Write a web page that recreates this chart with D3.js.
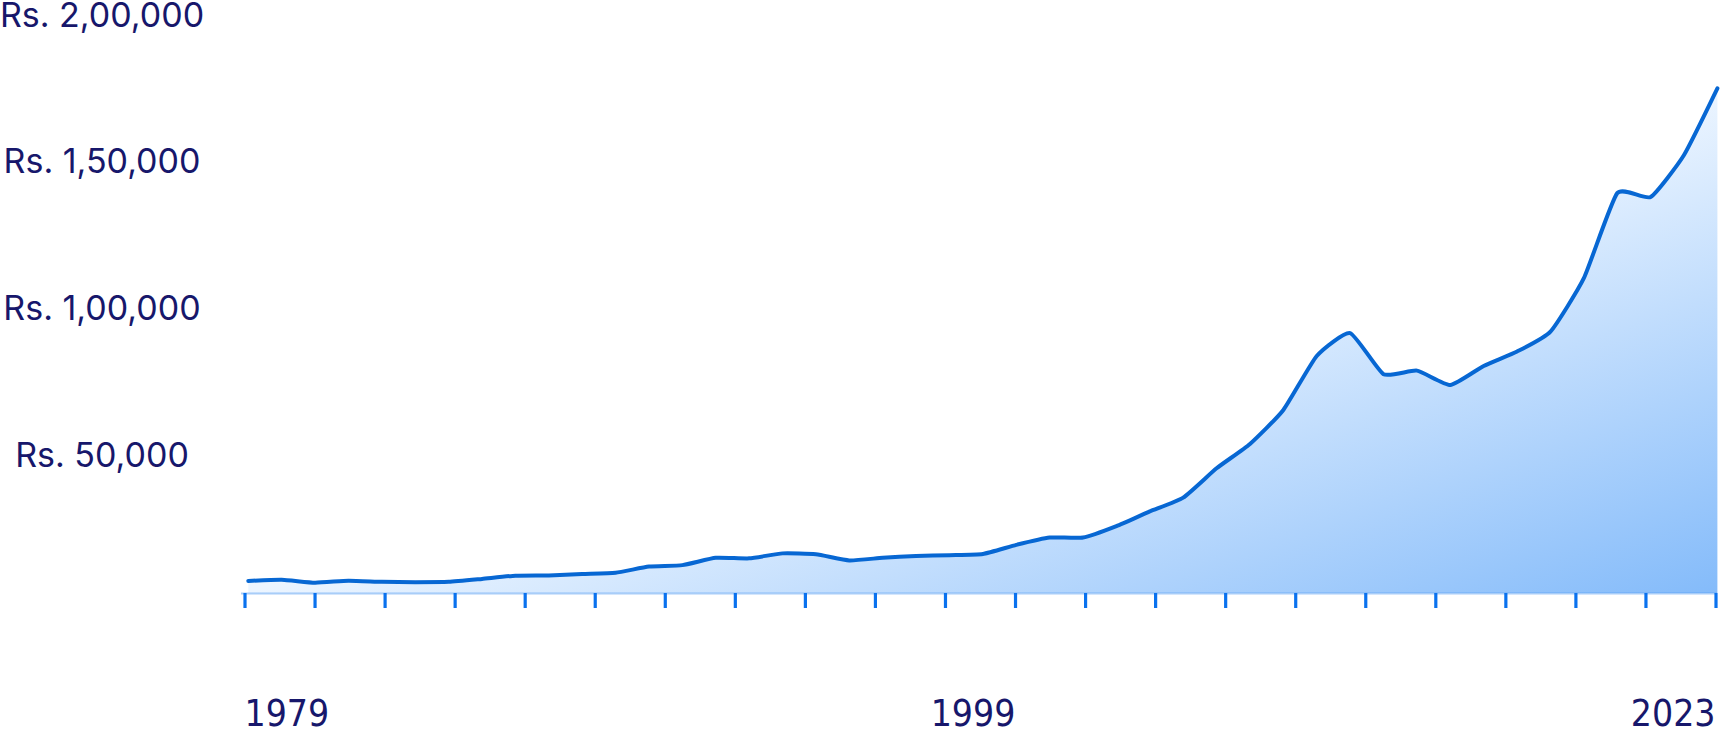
<!DOCTYPE html>
<html>
<head>
<meta charset="utf-8">
<script src="https://cdn.jsdelivr.net/npm/d3@7/dist/d3.min.js"></script>
<style>
  body { margin: 0; background: #fff; }
  #chart { width: 1720px; height: 732px; }
</style>
</head>
<body>
<div id="chart"></div>
<script>
// data, one value per year
var years = [1979, 1980, 1981, 1982, 1983, 1984, 1985, 1986, 1987, 1988,
             1989, 1990, 1991, 1992, 1993, 1994, 1995, 1996, 1997, 1998,
             1999, 2000, 2001, 2002, 2003, 2004, 2005, 2006, 2007, 2008,
             2009, 2010, 2011, 2012, 2013, 2014, 2015, 2016, 2017, 2018,
             2019, 2020, 2021, 2022, 2023];
var prices = [6800, 7200, 6200, 6900, 6500, 6400, 6500, 7500, 8600, 8700,
              9200, 9600, 11700, 12200, 14700, 14500, 16200, 15900, 13800, 14700,
              15300, 15600, 16000, 19100, 21600, 21600, 25500, 30500, 35200, 45200,
              53500, 65100, 83500, 91300, 77300, 78500, 73600, 80100, 85000, 91800,
              110000, 139000, 137700, 152000, 174700];

var yTicks = [50000, 100000, 150000, 200000];
var yTickLabels = ["Rs. 50,000", "Rs. 1,00,000", "Rs. 1,50,000", "Rs. 2,00,000"];
var yearLabels = ["1979", "1999", "2023"];
var tickMarks = [0, 1, 2, 3, 4, 5, 6, 7, 8, 9, 10, 11, 12, 13, 14, 15, 16, 17, 18, 19, 20, 21];

var data = years.map(function (d, i) { return { year: d, value: prices[i] }; });

var width = 1720;
var height = 732;
var axisY = 593;
var textColor = "#17176b";

const svg = d3.select("#chart").append("svg")
    .attr("width", width)
    .attr("height", height)
    .attr("viewBox", [0, 0, width, height]);

// scales
var x = d3.scaleLinear().domain([1979, 2023]).range([248.3, 1717.4]);
var y = d3.scaleLinear().domain([0, 200000]).range([600.9, 14.2]);
var tickScale = d3.scalePoint().domain(tickMarks).range([244.5, 1715.5]);

// gradient fill
var defs = svg.append("defs");
var grad = defs.append("linearGradient")
    .attr("id", "areaFill")
    .attr("x1", 0).attr("y1", 0)
    .attr("x2", 1).attr("y2", 1);
grad.append("stop").attr("offset", "0%").attr("stop-color", "#ffffff");
grad.append("stop").attr("offset", "50%").attr("stop-color", "#ecf5ff");
grad.append("stop").attr("offset", "100%").attr("stop-color", "#84bbfa");

var curve = d3.curveCardinal.tension(0.5);

var area = d3.area()
    .x(function (d) { return x(d.year); })
    .y0(axisY)
    .y1(function (d) { return y(d.value); })
    .curve(curve);

var line = d3.line()
    .x(function (d) { return x(d.year); })
    .y(function (d) { return y(d.value); })
    .curve(curve);

svg.append("path")
    .datum(data)
    .attr("d", area)
    .attr("fill", "url(#areaFill)");

// x axis with plain tick marks
var xAxis = svg.append("g")
    .attr("class", "xAxis")
    .attr("transform", `translate(0,${axisY})`)
    .call(d3.axisBottom(tickScale).tickSize(15).tickSizeOuter(0).tickFormat(""));
xAxis.select(".domain")
    .attr("d", `M241,0.5H1717`)
    .attr("stroke", "#3d90f0")
    .attr("stroke-opacity", 0.45)
    .attr("stroke-width", 2);
xAxis.selectAll(".tick line")
    .attr("stroke", "#0a72ee")
    .attr("stroke-width", 3.2);

svg.append("path")
    .datum(data)
    .attr("d", line)
    .attr("fill", "none")
    .attr("stroke", "#0767d3")
    .attr("stroke-width", 4)
    .attr("stroke-linejoin", "round")
    .attr("stroke-linecap", "round");

// y labels
svg.append("g")
    .selectAll("text")
    .data(yTicks)
    .enter()
    .append("text")
    .attr("x", 102)
    .attr("y", function (d) { return y(d) + 12.5; })
    .attr("text-anchor", "middle")
    .attr("fill", textColor)
    .style("font-family", "Inter, 'Open Sans', sans-serif")
    .style("font-size", "34px")
    .text(function (d, i) { return yTickLabels[i]; });

// year labels: first, middle, last
var first = tickScale(tickMarks[0]);
var last = tickScale(tickMarks[tickMarks.length - 1]);
var labelPos = [
    { x: first, anchor: "start" },
    { x: (first + last) / 2 - 7, anchor: "middle" },
    { x: last, anchor: "end" }
];
svg.append("g")
    .selectAll("text")
    .data(yearLabels)
    .enter()
    .append("text")
    .attr("x", function (d, i) { return labelPos[i].x; })
    .attr("y", 726)
    .attr("text-anchor", function (d, i) { return labelPos[i].anchor; })
    .attr("fill", textColor)
    .style("font-family", "'Liberation Sans Narrow', 'DejaVu Sans Condensed', sans-serif")
    .style("font-size", "37px")
    .text(function (d) { return d; });
</script>
</body>
</html>
